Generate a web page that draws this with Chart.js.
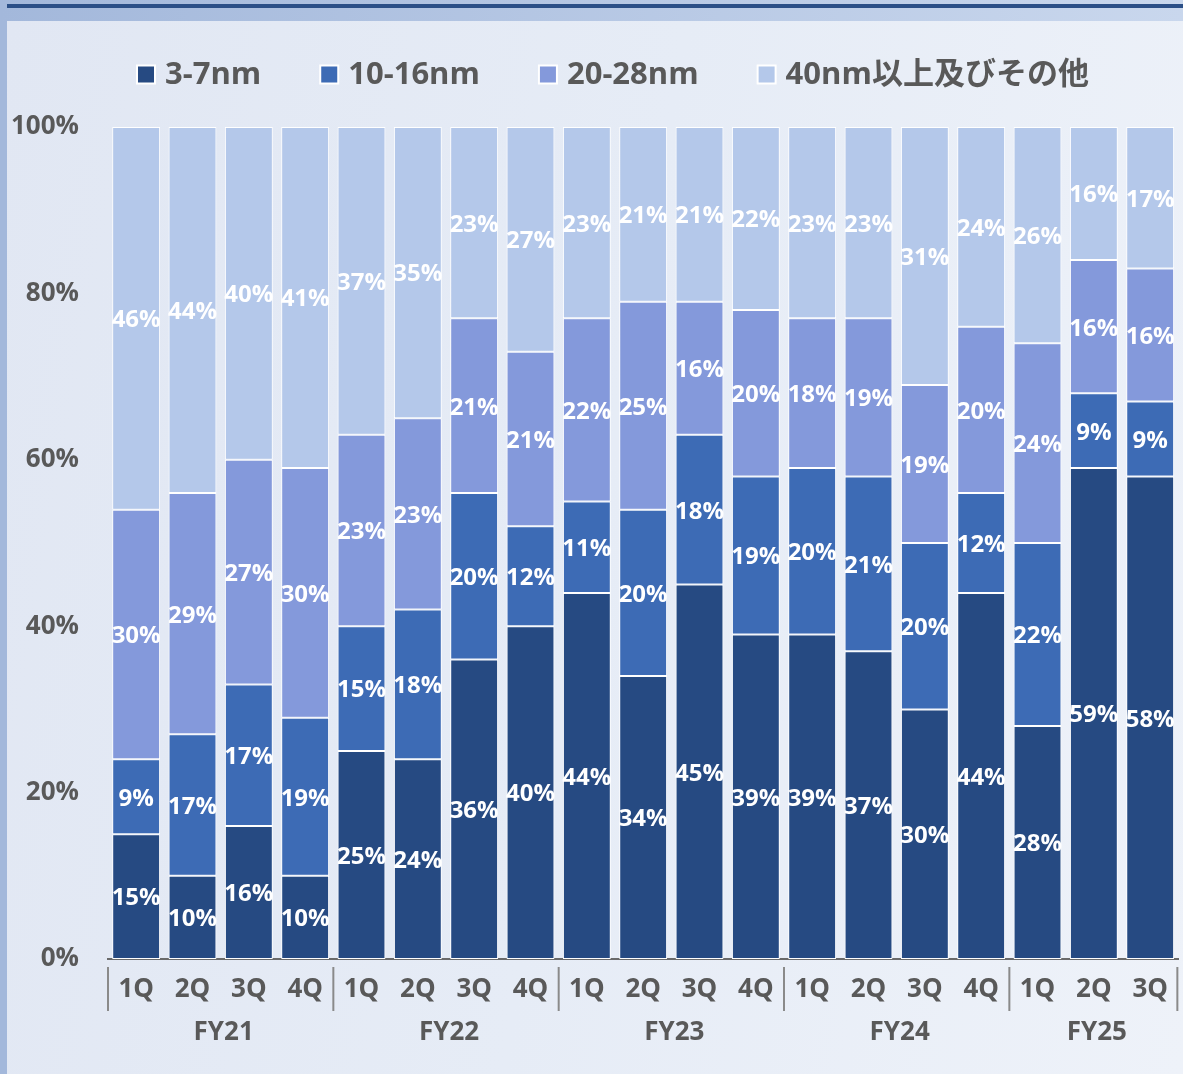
<!DOCTYPE html>
<html><head><meta charset="utf-8">
<script src="https://cdn.jsdelivr.net/npm/chart.js@4.4.1/dist/chart.umd.min.js"></script>
<style>
html,body{margin:0;padding:0;}
body{width:1183px;height:1074px;position:relative;overflow:hidden;background:#a3b8db;}
#band{position:absolute;left:0;top:0;width:1183px;height:21px;background:linear-gradient(to right,#a3b8db,#c9d7ed);}
#line{position:absolute;left:7px;top:4px;width:1176px;height:4px;background:#2b4f87;}
#panel{position:absolute;left:7px;top:21px;width:1176px;height:1053px;background:linear-gradient(100deg,#e1e7f3 0%,#e6ecf6 50%,#eef2f9 100%);}
#wrap{position:absolute;left:0;top:0;width:1183px;height:1074px;}
</style></head>
<body>
<div id="band"></div><div id="line"></div><div id="panel"></div>
<div id="wrap"><canvas id="c"></canvas></div>
<script>
const categories = ['1Q','2Q','3Q','4Q','1Q','2Q','3Q','4Q','1Q','2Q','3Q','4Q','1Q','2Q','3Q','4Q','1Q','2Q','3Q'];
const groups = ['FY21','FY22','FY23','FY24','FY25'];
const groupSizes = [4,4,4,4,3];
const seriesNames = ['3-7nm','10-16nm','20-28nm','40nm以上及びその他'];
const s3to7   = [15,10,16,10,25,24,36,40,44,34,45,39,39,37,30,44,28,59,58];
const s10to16 = [9,17,17,19,15,18,20,12,11,20,18,19,20,21,20,12,22,9,9];
const s20to28 = [30,29,27,30,23,23,21,21,22,25,16,20,18,19,19,20,24,16,16];
const s40plus = [46,44,40,41,37,35,23,27,23,21,21,22,23,23,31,24,26,16,17];
const yTicks = [0,20,40,60,80,100];

const colors = ['#264a82','#3d6bb5','#8499db','#b4c8ea'];
const FONT = "'Open Sans','Noto Sans CJK JP',sans-serif";
const TXT = '#595959';

const overlay = {
  id: 'overlay',
  afterDatasetsDraw(chart) {
    const ctx = chart.ctx;
    ctx.save();
    ctx.font = 'bold 24px ' + FONT;
    ctx.fillStyle = '#ffffff';
    ctx.textAlign = 'center';
    ctx.textBaseline = 'middle';
    chart.data.datasets.forEach((ds, di) => {
      const meta = chart.getDatasetMeta(di);
      meta.data.forEach((bar, i) => {
        ctx.fillText(ds.data[i] + '%', bar.x, (bar.y + bar.base) / 2 + 2);
      });
    });
    ctx.restore();
  },
  afterDraw(chart) {
    const ctx = chart.ctx;
    ctx.save();
    // legend
    let x = 136; const yc = 74.5;
    ctx.font = 'bold 31px ' + FONT;
    ctx.textAlign = 'left';
    ctx.textBaseline = 'middle';
    chart.data.datasets.forEach(ds => {
      ctx.fillStyle = '#ffffff';
      ctx.fillRect(x, yc - 10, 20, 20);
      ctx.fillStyle = ds.backgroundColor;
      ctx.fillRect(x + 2, yc - 8, 16, 16);
      ctx.fillStyle = TXT;
      ctx.fillText(ds.label, x + 29, yc + 1);
      x = x + 29 + ctx.measureText(ds.label).width + 58;
    });
    // group separators & labels
    const xs = chart.scales.x;
    const bottom = chart.chartArea.bottom;
    const half = (xs.getPixelForValue(1) - xs.getPixelForValue(0)) / 2;
    ctx.strokeStyle = '#8a8a8a';
    ctx.lineWidth = 2;
    ctx.font = 'bold 26px ' + FONT;
    ctx.textAlign = 'center';
    ctx.fillStyle = TXT;
    let start = 0;
    groups.forEach((g, gi) => {
      const n = groupSizes[gi];
      const left = xs.getPixelForValue(start) - half;
      const right = xs.getPixelForValue(start + n - 1) + half;
      ctx.beginPath();
      ctx.moveTo(left, bottom + 8); ctx.lineTo(left, bottom + 52);
      if (gi === groups.length - 1) { ctx.moveTo(right - 1, bottom + 8); ctx.lineTo(right - 1, bottom + 52); }
      ctx.stroke();
      ctx.fillText(g, (left + right) / 2 + 3, bottom + 74);
      start += n;
    });
    ctx.restore();
  }
};

const series = [s3to7, s10to16, s20to28, s40plus];
new Chart(document.getElementById('c'), {
  type: 'bar',
  data: {
    labels: categories,
    datasets: series.map((d, i) => ({
      label: seriesNames[i],
      data: d,
      backgroundColor: colors[i],
      borderColor: '#ffffff',
      borderWidth: 1,
      borderSkipped: false,
      categoryPercentage: 1,
      barPercentage: 0.85
    }))
  },
  options: {
    responsive: true,
    maintainAspectRatio: false,
    animation: false,
    layout: { padding: { top: 127, right: 1, left: 0, bottom: 0 } },
    plugins: { legend: { display: false }, tooltip: { enabled: false } },
    scales: {
      x: {
        stacked: true,
        grid: { display: false, drawTicks: false },
        border: { display: true, color: '#6a6a6a', width: 2 },
        ticks: { color: TXT, font: { family: FONT, size: 26, weight: 'bold' }, padding: 15, maxRotation: 0, autoSkip: false },
        afterFit(s) { s.height = 115; }
      },
      y: {
        stacked: true,
        min: 0, max: 100,
        grid: { display: false, drawTicks: false },
        border: { display: false },
        afterBuildTicks(s) { s.ticks = yTicks.map(v => ({ value: v })); },
        ticks: { color: TXT, font: { family: FONT, size: 26, weight: 'bold' }, padding: 29, callback: v => v + '%' },
        afterFit(s) { s.width = 108; }
      }
    }
  },
  plugins: [overlay]
});
</script>
</body></html>
